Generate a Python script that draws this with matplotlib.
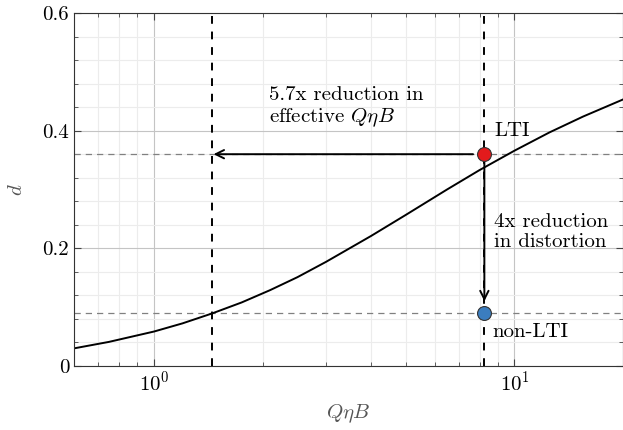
import numpy as np
import matplotlib
matplotlib.use('Agg')
from matplotlib import pyplot as plt
from matplotlib.ticker import LogLocator, MultipleLocator, FixedFormatter, FixedLocator

plt.rcParams['font.family'] = 'serif'
plt.rcParams['font.serif'] = ['cmr10']
plt.rcParams['mathtext.fontset'] = 'cm'
plt.rcParams['axes.formatter.use_mathtext'] = True

# curve
qnb = [0.6, 0.75, 1.0, 1.2, 1.45, 1.75, 2.1, 2.5, 3.0, 4.0, 5.0, 6.5, 8.0, 10, 12.5, 15.5, 20]
dist = [0.030, 0.041, 0.0586, 0.0725, 0.0894, 0.108, 0.129, 0.151, 0.177, 0.221, 0.257, 0.300, 0.333, 0.366, 0.397, 0.424, 0.453]

x_lti = 8.25
x_eff = 1.45
d_lti = 0.36
d_nonlti = 0.09

fig = plt.figure(figsize=(6.23, 4.30), dpi=100)
ax = fig.add_axes([0.1188, 0.1488, 0.8812, 0.821])

ax.set_xscale('log')
ax.set_xlim(0.6, 20)
ax.set_ylim(0, 0.6)

ax.yaxis.set_major_locator(FixedLocator([0, 0.2, 0.4, 0.6]))
ax.yaxis.set_major_formatter(FixedFormatter(['0', '0.2', '0.4', '0.6']))
ax.yaxis.set_minor_locator(MultipleLocator(0.04))
ax.xaxis.set_minor_locator(LogLocator(base=10, subs=np.arange(2, 10)))

ax.grid(which='major', color='#c4c4c4', lw=0.8)
ax.grid(which='minor', color='#ececec', lw=0.8)
ax.set_axisbelow(True)

ax.tick_params(which='both', direction='in', top=True, right=True, color='#444444')
ax.tick_params(which='major', length=5, labelsize=15)
ax.tick_params(which='minor', length=3)
for s in ax.spines.values():
    s.set_color('#333333')

# guide lines
ax.axhline(d_lti, color='#808080', ls=(0, (5, 4)), lw=0.9)
ax.axhline(d_nonlti, color='#808080', ls=(0, (5, 4)), lw=0.9)
ax.axvline(x_eff, color='black', ls=(0, (4, 4)), lw=1.4)
ax.axvline(x_lti, color='black', ls=(0, (4, 4)), lw=1.4)

ax.plot(qnb, dist, color='black', lw=1.4)

# arrows
ax.annotate('', xy=(x_eff, d_lti), xytext=(x_lti * 0.93, d_lti),
            arrowprops=dict(arrowstyle='->', color='black', lw=1.4, mutation_scale=15, shrinkA=0, shrinkB=1))
ax.annotate('', xy=(x_lti, 0.11), xytext=(x_lti, d_lti),
            arrowprops=dict(arrowstyle='->', color='black', lw=1.4, mutation_scale=15, shrinkA=0, shrinkB=0))

ax.plot([x_lti], [d_lti], 'o', ms=10, mfc='#e31a1c', mec='#333333', mew=0.8, zorder=5)
ax.plot([x_lti], [d_nonlti], 'o', ms=10, mfc='#3b7dbf', mec='#333333', mew=0.8, zorder=5)

ax.text(2.09, 0.44, '5.7x reduction in\neffective $Q\\eta B$', fontsize=15, va='center', ha='left', linespacing=1.15)
ax.text(8.8, 0.40, 'LTI', fontsize=15, va='center', ha='left')
ax.text(8.75, 0.228, '4x reduction\nin distortion', fontsize=15, va='center', ha='left', linespacing=1.15)
ax.text(8.7, 0.058, 'non-LTI', fontsize=15, va='center', ha='left')

ax.set_xlabel('$Q\\eta B$', fontsize=15, color='#555555', labelpad=5)
ax.set_ylabel('$d$', fontsize=15, color='#555555', labelpad=12)

fig.savefig('out.png', dpi=100)
